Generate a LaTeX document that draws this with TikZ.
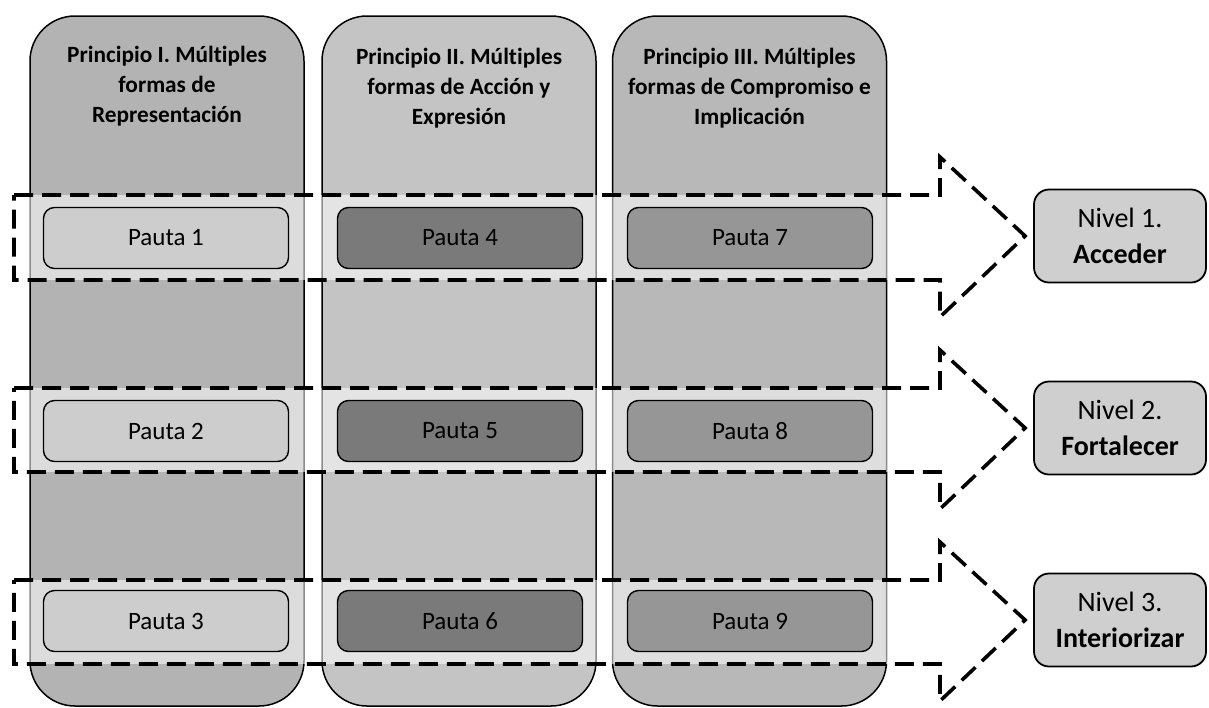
\documentclass[tikz,border=0pt]{standalone}
\usepackage{fontspec}
\setmainfont{Carlito}[Ligatures=NoCommon]
\usetikzlibrary{positioning,calc}

\definecolor{colOne}{HTML}{B3B3B3}
\definecolor{colTwo}{HTML}{C4C4C4}
\definecolor{colThree}{HTML}{B8B8B8}
\definecolor{pautaLight}{HTML}{CDCDCD}
\definecolor{pautaDark}{HTML}{7A7A7A}
\definecolor{pautaMid}{HTML}{969696}
\definecolor{nivelFill}{HTML}{CFCFCF}

\begin{document}
\begin{tikzpicture}[x=1pt, y=-1pt,
	column/.style={draw=black, line width=1.5pt, rounded corners=45pt, minimum width=274pt, minimum height=690pt, inner sep=0pt},
	header/.style={font=\fontsize{23.3}{30}\selectfont\bfseries, align=center},
	pauta/.style={draw=black, line width=1.4pt, rounded corners=11pt, minimum width=245pt, minimum height=61pt, inner sep=0pt, font=\fontsize{25}{30}\selectfont},
	nivel/.style={draw=black, line width=1.8pt, rounded corners=15pt, minimum width=172pt, minimum height=93pt, inner sep=0pt, fill=nivelFill, align=center, font=\fontsize{28}{36}\selectfont},
	bracket/.style={draw=black, line width=3.6pt, dash pattern=on 19pt off 9pt}]
	
	\useasboundingbox (0,0) rectangle (1209,707);
	
	% Columns
	\node[column, fill=colOne] (c1) at (167,361) {};
	\node[column, fill=colTwo] (c2) at (459,361) {};
	\node[column, fill=colThree] (c3) at (749.5,361) {};
	
	% Headers
	\node[header] (h1) at (167,86) {Principio I. Múltiples\\formas de\\Representación};
	\node[header] (h2) at (459,88) {Principio II. Múltiples\\formas de Acción y\\Expresión};
	\node[header] (h3) at (749.5,88) {Principio III. Múltiples\\formas de Compromiso e\\Implicación};
	
	% Light bands
	\foreach \t/\b in {195/280, 388/472, 580/664}
	\foreach \xl in {30,322,612.5}
	\fill[white, fill opacity=0.55] (\xl-1.5,\t) rectangle (\xl+275.5,\b);
	
	% Pautas
	\node[pauta, fill=pautaLight] (p1) at (166,238) {Pauta 1};
	\node[pauta, fill=pautaLight] (p2) at (166,431) {Pauta 2};
	\node[pauta, fill=pautaLight] (p3) at (166,621) {Pauta 3};
	\node[pauta, fill=pautaDark] (p4) at (460,238) {Pauta 4};
	\node[pauta, fill=pautaDark] (p5) at (460,431) {Pauta 5};
	\node[pauta, fill=pautaDark] (p6) at (460,621) {Pauta 6};
	\node[pauta, fill=pautaMid] (p7) at (750,238) {Pauta 7};
	\node[pauta, fill=pautaMid] (p8) at (750,431) {Pauta 8};
	\node[pauta, fill=pautaMid] (p9) at (750,621) {Pauta 9};
	
	% Levels
	\node[nivel] (n1) at (1120,236) {Nivel 1.\\\textbf{Acceder}};
	\node[nivel] (n2) at (1120,428) {Nivel 2.\\\textbf{Fortalecer}};
	\node[nivel] (n3) at (1120,620) {Nivel 3.\\\textbf{Interiorizar}};
	
	% Dashed brackets
	\foreach \t/\b [count=\i] in {195/280, 388/472, 580/664}
	\draw[bracket] (14,\t) -- (940,\t) -- (940,\t-38) -- ($(n\i.west)+(-8,0)$)
		-- (940,\b+37) -- (940,\b) -- (14,\b) -- cycle;
	
\end{tikzpicture}
\end{document}
